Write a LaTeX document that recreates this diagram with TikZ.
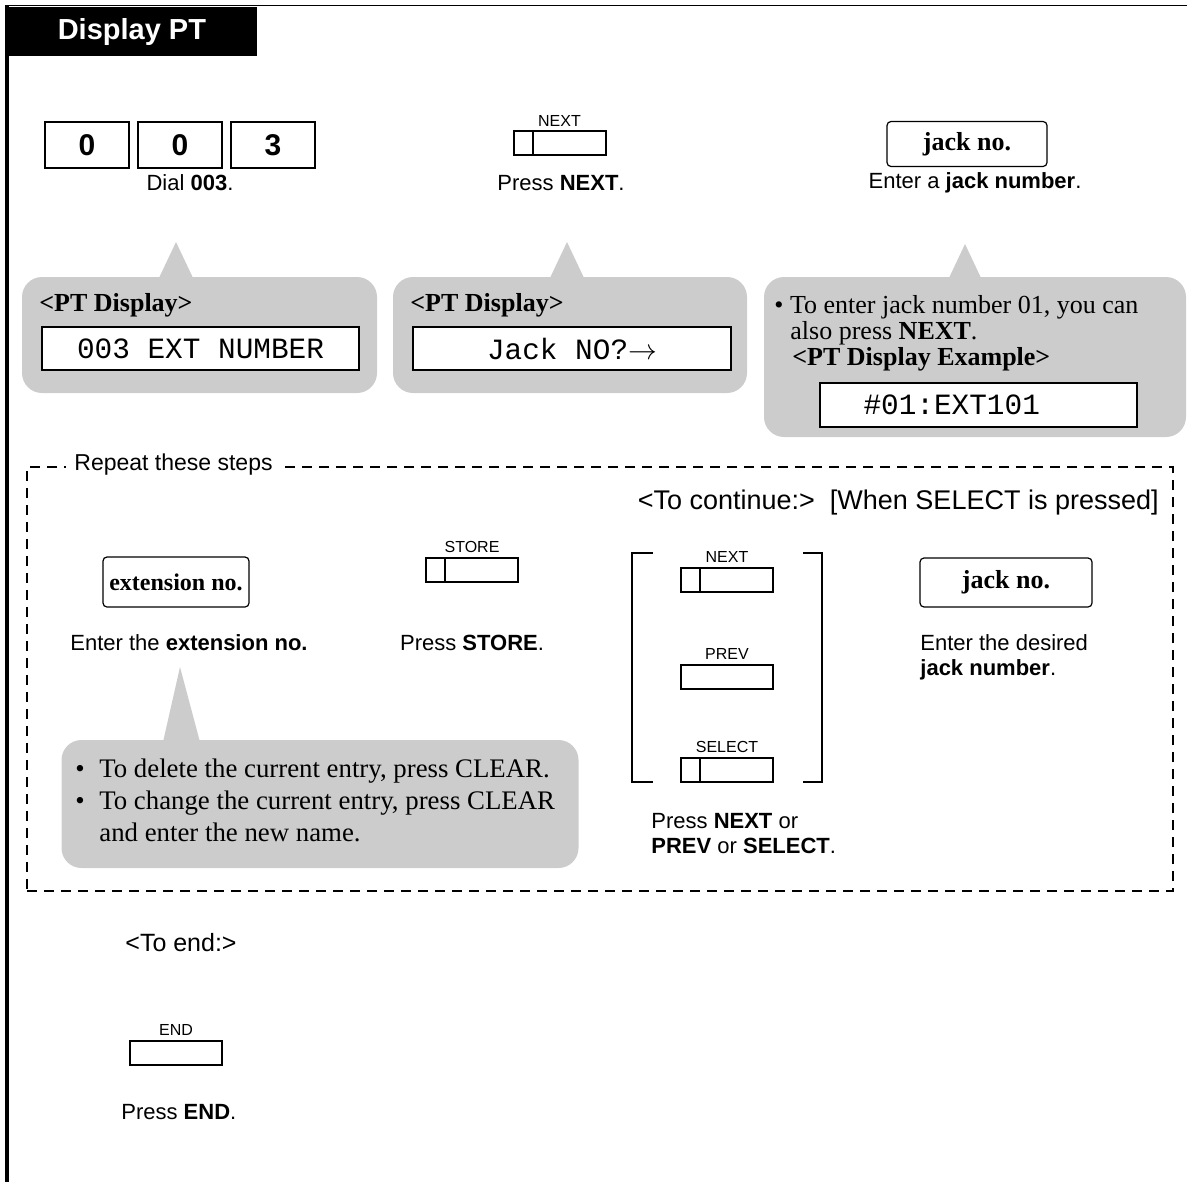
\documentclass[tikz,border=0pt]{standalone}
\usepackage{fontspec}
\setmainfont{Liberation Serif}
\setsansfont{Liberation Sans}
\setmonofont{Liberation Mono}
\usepackage{tikz}
\usetikzlibrary{positioning}
\definecolor{bubblegray}{gray}{0.8}
\tikzset{
    base/.style={inner sep=0pt, align=left},
    caption/.style={base, font=\sffamily\fontsize{11}{12.5}\selectfont},
    dialkey/.style={draw, line width=1pt, minimum width=42pt, minimum height=23pt, inner sep=0pt, font=\sffamily\bfseries\fontsize{15}{15}\selectfont},
    softkey/.style={draw, line width=1pt, minimum width=46pt, minimum height=12pt, inner sep=0pt},
    softkeybar/.style={softkey, path picture={\draw[line width=1pt] ([xshift=9.5pt]path picture bounding box.south west) -- ([xshift=9.5pt]path picture bounding box.north west);}},
    keylabel/.style={font=\sffamily\fontsize{8}{8}\selectfont, inner sep=2pt},
    entrybox/.style={draw, line width=0.6pt, rounded corners=2pt, inner sep=0pt, font=\bfseries\fontsize{13}{13}\selectfont},
    bubble/.style={fill=bubblegray, rounded corners=10pt, inner sep=0pt},
    lcd/.style={draw, fill=white, line width=0.6pt, inner sep=0pt, minimum height=21.5pt, font=\ttfamily\fontsize{14.7}{15}\selectfont},
    bubblehead/.style={base, font=\bfseries\fontsize{13}{13}\selectfont},
    notetext/.style={base, font=\fontsize{13}{13}\selectfont},
    framedash/.style={draw, line width=1pt, dash pattern=on 5pt off 3.5pt, inner sep=0pt},
    bracket/.style={draw, line width=0.7pt}
}

\begin{document}
\begin{tikzpicture}[x=0.5pt, y=-0.5pt]
    \useasboundingbox (0,0) rectangle (1187,1182);
    % page frame and title
    \draw[line width=1.75pt] (7,1182) -- (7,5);
    \draw[line width=0.8pt] (7,5.5) -- (1187,5.5);
    \node[fill=black, text=white, anchor=north west, minimum width=125.5pt, minimum height=24.5pt, inner sep=0pt, font=\sffamily\bfseries\fontsize{14.5}{15}\selectfont] (title) at (6,7) {Display PT};

    % step 1: dial 003
    \node[dialkey] (d1) at (87,145) {0};
    \node[dialkey, right=3.5pt of d1] (d2) {0};
    \node[dialkey, right=3.5pt of d2] (d3) {3};
    \node[caption] (dial) at (190,183) {Dial \textbf{003}.};

    % step 2: press NEXT
    \node[softkeybar, label={[keylabel]above:NEXT}] (next) at (559.5,143.5) {};
    \node[caption] (pnext) at (561,183) {Press \textbf{NEXT}.};

    % step 3: jack number
    \node[entrybox, minimum width=80pt, minimum height=22.5pt] (jack) at (967,144) {jack no.};
    \node[caption] (ejack) at (975,183) {Enter a \textbf{jack number}.};

    % display bubbles
    \node[bubble, minimum width=177.5pt, minimum height=58pt] (b1) at (199.5,335) {};
    \coordinate (t1) at (176,242);
    \fill[bubblegray] (t1) -- ++(-18,38) -- ++(36,0) -- cycle;
    \node[bubblehead, anchor=west] (h1) at (39,305) {<PT Display>};
    \node[lcd, minimum width=158.5pt] (l1) at (200.5,348.5) {003 EXT NUMBER};

    \node[bubble, minimum width=177pt, minimum height=58pt] (b2) at (570,335) {};
    \coordinate (t2) at (567,242);
    \fill[bubblegray] (t2) -- ++(-18,38) -- ++(36,0) -- cycle;
    \node[bubblehead, anchor=west] (h2) at (410,305) {<PT Display>};
    \node[lcd, minimum width=159pt] (l2) at (572,348.5) {Jack NO?$\rightarrow$};

    \node[bubble, minimum width=211pt, minimum height=80pt] (b3) at (975,357) {};
    \coordinate (t3) at (965,244);
    \fill[bubblegray] (t3) -- ++(-17,36) -- ++(34,0) -- cycle;
    \node[notetext, anchor=north west] (n3) at (774,295) {\textbullet\ To enter jack number 01, you can\\\hspace*{8pt}also press \textbf{NEXT}.\\\hspace*{9pt}\textbf{<PT Display Example>}};
    \node[lcd, minimum width=158.5pt, minimum height=22pt, text width=115pt, align=left, inner xsep=20pt] (l3) at (978.5,405) {\#01:EXT101};

    % repeated steps
    \node[framedash, anchor=north west, minimum width=573pt, minimum height=212pt] (rep) at (26,466) {};
    \node[caption, fill=white, inner xsep=4pt, inner ysep=2pt, anchor=west, font=\sffamily\fontsize{11.5}{12}\selectfont] (replbl) at (66,465) {Repeat these steps};
    \node[caption, anchor=east, font=\sffamily\fontsize{13.5}{14}\selectfont] (cont) at (1159,503) {<To continue:>\ \ [When SELECT is pressed]};

    \node[entrybox, minimum width=73pt, minimum height=25pt, font=\bfseries\fontsize{12}{12}\selectfont] (ext) at (176,582) {extension no.};
    \node[caption] (eext) at (189,643) {Enter the \textbf{extension no.}};

    \node[softkeybar, label={[keylabel]above:STORE}] (store) at (472,570) {};
    \node[caption] (pstore) at (472,643) {Press \textbf{STORE}.};

    \node[softkeybar, label={[keylabel]above:NEXT}] (next2) at (727,580) {};
    \node[softkey, label={[keylabel]above:PREV}] (prev) at (727,676.5) {};
    \node[softkeybar, label={[keylabel]above:SELECT}] (select) at (727,770) {};
    \draw[bracket] (653,553) -- (632,553) -- (632,782) -- (653,782);
    \draw[bracket] (803,553) -- (822,553) -- (822,782) -- (803,782);
    \node[caption, anchor=north west] (pboth) at (651,813) {Press \textbf{NEXT} or\\\textbf{PREV} or \textbf{SELECT}.};

    \node[entrybox, minimum width=86pt, minimum height=24.5pt] (jack2) at (1006,582.5) {jack no.};
    \node[caption, anchor=north west] (ejack2) at (920,634) {Enter the desired\\\textbf{jack number}.};

    % note bubble
    \node[bubble, minimum width=258.5pt, minimum height=64pt] (b4) at (320,804) {};
    \coordinate (t4) at (180,667);
    \fill[bubblegray] (t4) -- ++(-17,75) -- ++(37,0) -- cycle;
    \node[notetext, anchor=north west, font=\fontsize{13.4}{16}\selectfont] (n4) at (75,758) {\makebox[12pt][l]{\textbullet}To delete the current entry, press CLEAR.\\\makebox[12pt][l]{\textbullet}To change the current entry, press CLEAR\\\hspace*{12pt}and enter the new name.};

    % ending
    \node[caption, anchor=west, font=\sffamily\fontsize{12.5}{13}\selectfont] (toend) at (125,943) {<To end:>};
    \node[softkey, label={[keylabel]above:END}] (endkey) at (176,1053) {};
    \node[caption, anchor=west] (pend) at (121,1112) {Press \textbf{END}.};
\end{tikzpicture}
\end{document}
